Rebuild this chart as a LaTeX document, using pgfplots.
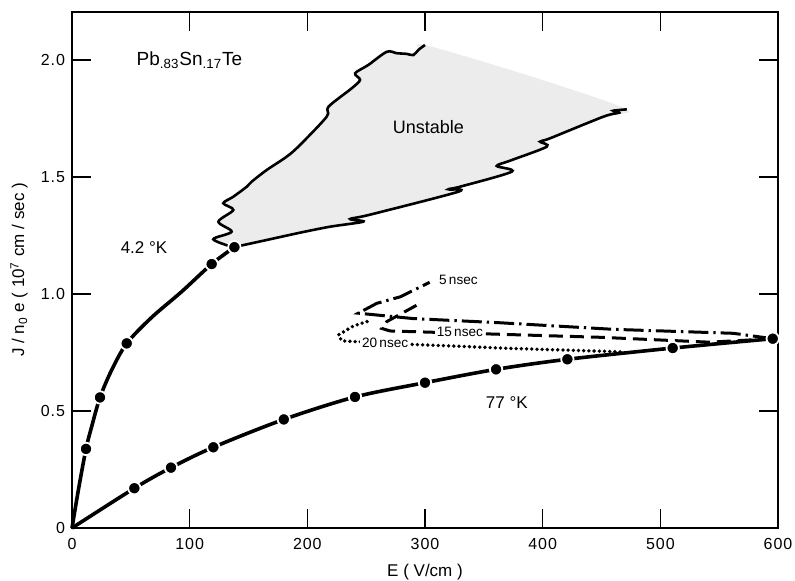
\documentclass[border=0pt]{standalone}
\usepackage{fontspec}
\setmainfont{Liberation Sans}
\newfontfamily\spfont[LetterSpace=6]{Liberation Sans}
\usepackage{pgfplots}
\pgfplotsset{compat=1.18}
\begin{document}
\begin{tikzpicture}
\useasboundingbox (-36pt,-26pt) rectangle (361.5pt,264pt);
\begin{axis}[
 at={(0,0)}, anchor=south west, scale only axis, width=353pt, height=258pt,
 xmin=0, xmax=600, ymin=0, ymax=2.205,
 xtick={0,100,200,300,400,500,600}, xticklabels={0,100,200,300,400,500,600},
 ytick={0,0.5,1,1.5,2}, yticklabels={0,0.5,1.0,1.5,2.0},
 tick align=inside, major tick length=9.5pt,
 every tick/.style={black, line width=0.7pt},
 axis line style={line width=0.8pt},
 ticklabel style={font=\spfont\fontsize{8}{9}\selectfont},
 xticklabel style={yshift=-1.5pt},
 xlabel={E ( V/cm )},
 ylabel={J / n\textsubscript{0} e ( 10\textsuperscript{7} cm / sec )},
 label style={font=\fontsize{8.5}{10}\selectfont},
 xlabel style={at={(axis description cs:0.5,-0.0853)}, anchor=center},
 ylabel style={at={(axis description cs:-0.075,0.5)}, anchor=center},
 clip=false,
]
% unstable region fill
\addplot[fill=gray!15, draw=none, smooth, tension=0.5] coordinates {
(137.1,1.1996) (120.1,1.2338) (135.7,1.2662) (124.4,1.309) (137.1,1.359) (128.6,1.3876)
(137.1,1.4158) (148.5,1.4585) (152.7,1.48) (165.5,1.53) (182.5,1.587) (193.8,1.637)
(216.5,1.758) (217.9,1.800) (237.7,1.879) (244.8,1.915) (240.6,1.943) (251.9,1.979)
(267.5,2.035) (276,2.029) (284.5,2.026) (290.1,2.021) (294.4,2.043) (300,2.064)
(390,1.93) (471.5,1.789) (451.6,1.7577)
(406.3,1.6654) (397.8,1.651) (403.5,1.6295)
(372.3,1.5697) (361,1.547) (373.7,1.5226)
(329.8,1.4585) (319.9,1.4474) (328.3,1.437)
(253.3,1.339) (236.3,1.3205) (247.6,1.309)
(219.3,1.2876) (193.8,1.262) (165.5,1.2308) (137.1,1.1996)
};
% upper boundary
\addplot[black, line width=1.3pt, smooth, tension=0.5] coordinates {
(137.1,1.1996) (120.1,1.2338) (135.7,1.2662) (124.4,1.309) (137.1,1.359) (128.6,1.3876)
(137.1,1.4158) (148.5,1.4585) (152.7,1.48) (165.5,1.53) (182.5,1.587) (193.8,1.637)
(216.5,1.758) (217.9,1.800) (237.7,1.879) (244.8,1.915) (240.6,1.943) (251.9,1.979)
(267.5,2.035) (276,2.029) (284.5,2.026) (290.1,2.021) (294.4,2.043) (300,2.064)
};
% lower boundary
\addplot[black, line width=1.3pt, smooth, tension=0.5] coordinates {
(137.1,1.1996) (165.5,1.2308) (193.8,1.262) (219.3,1.2876)
(247.6,1.309) (236.3,1.3205) (253.3,1.339)
(328.3,1.437) (319.9,1.4474) (329.8,1.4585)
(373.7,1.5226) (361,1.547) (372.3,1.5697)
(403.5,1.6295) (397.8,1.651) (406.3,1.6654)
(451.6,1.7577) (465,1.775) (460,1.783) (471.5,1.789)
};
% 4.2 K curve
\addplot[black, line width=1.8pt, smooth, tension=0.5] coordinates {
(0,0) (5.4,0.162) (11.9,0.338) (16.7,0.433) (23.8,0.558) (33.7,0.675)
(46.5,0.789) (67.7,0.900) (93.2,1.010) (118.7,1.128) (138,1.2)
};
% 77 K curve
\addplot[black, line width=1.8pt, smooth, tension=0.5] coordinates {
(0,0) (53,0.170) (84.1,0.258) (120.1,0.345) (180,0.464) (240.5,0.560) (300,0.621)
(360.4,0.678) (421,0.721) (510.5,0.769) (595.5,0.809)
};
% 5 nsec
\addplot[black, line width=1.5pt, dash pattern=on 10pt off 2.5pt on 1.2pt off 2.5pt] coordinates {
(595.5,0.809) (562,0.832) (460,0.849) (364,0.877) (290,0.895) (243.3,0.918)
(259,0.96) (279,0.988) (304,1.05)
};
% 15 nsec
\addplot[black, line width=1.5pt, dash pattern=on 7pt off 3.5pt] coordinates {
(595.5,0.809) (542,0.794) (448.8,0.815) (270.3,0.842) (263.2,0.853) (267.5,0.882) (295.8,0.960)
};
% 20 nsec
\addplot[black, line width=1.9pt, line cap=round, dash pattern=on 0pt off 2.6pt] coordinates {
(465.8,0.753) (370,0.768) (287.3,0.785) (243,0.796) (229.2,0.800) (226.4,0.825) (239,0.863) (254.8,0.889)
};
% markers
\addplot[only marks, mark=*, mark size=3.1pt, mark options={fill=black, draw=white, line width=0.9pt}] coordinates {
(11.9,0.338) (23.8,0.558) (46.5,0.789) (118.7,1.128) (138,1.2)
};
\addplot[only marks, mark=*, mark size=3.1pt, mark options={fill=black, draw=white, line width=0.9pt}] coordinates {
(53,0.170) (84.1,0.258) (120.1,0.345) (180,0.464) (240.5,0.560) (300,0.621)
(360.4,0.678) (421,0.721) (510.5,0.769) (595.5,0.809)
};
% labels
\node[anchor=west, font=\fontsize{9.5}{11}\selectfont] at (axis cs:49,2.0) {Pb\textsubscript{.83}Sn\textsubscript{.17}Te};
\node[font=\fontsize{9}{11}\selectfont] at (axis cs:302.9,1.712) {Unstable};
\node[font=\fontsize{8.5}{10}\selectfont] at (axis cs:61.2,1.197) {4.2 °K};
\node[font=\fontsize{8.5}{10}\selectfont] at (axis cs:369.5,0.535) {77 °K};
\node[anchor=west, font=\fontsize{6.8}{8}\selectfont, inner sep=1pt] at (axis cs:310,1.06) {5\,nsec};
\node[anchor=west, font=\fontsize{6.8}{8}\selectfont, fill=white, inner sep=1pt] at (axis cs:308,0.837) {15\,nsec};
\node[anchor=west, font=\fontsize{6.8}{8}\selectfont, fill=white, inner sep=1pt] at (axis cs:244.5,0.79) {20\,nsec};
\end{axis}
\end{tikzpicture}
\end{document}
